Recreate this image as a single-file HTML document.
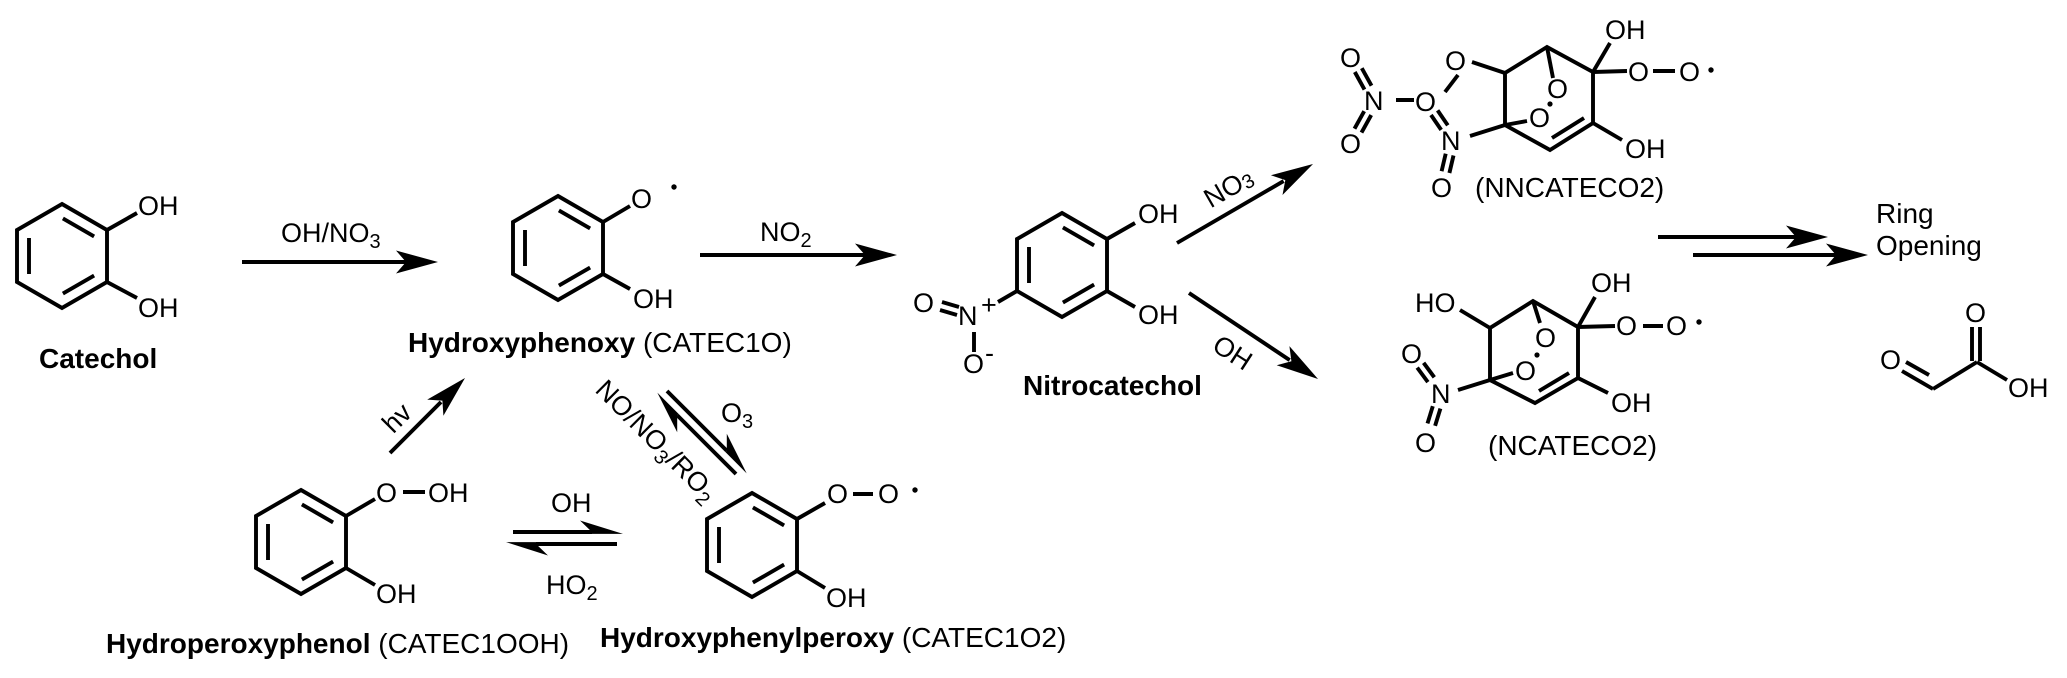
<!DOCTYPE html>
<html><head><meta charset="utf-8"><style>
html,body{margin:0;padding:0;background:#fff;}
svg{display:block;}
text{font-family:"Liberation Sans",Arial,sans-serif;font-size:27px;fill:#000;}
.n{font-size:28px;}
</style></head><body>
<svg width="2067" height="678" viewBox="0 0 2067 678" xmlns="http://www.w3.org/2000/svg">
<rect width="2067" height="678" fill="#fff"/>
<g stroke="#000" stroke-width="3.9" fill="none" stroke-linejoin="miter" stroke-linecap="butt">
<!-- Catechol -->
<polygon points="62,204 107,230 107,282 62,308 17,282 17,230"/>
<line x1="62.9" y1="218.4" x2="94.1" y2="236.4"/>
<line x1="29" y1="238" x2="29" y2="274"/>
<line x1="62.9" y1="293.6" x2="94.1" y2="275.6"/>
<line x1="107" y1="230" x2="137" y2="213"/>
<line x1="107" y1="282" x2="137" y2="298"/>
<!-- arrow 1 -->
<line x1="242" y1="262" x2="408" y2="262"/>
<!-- Hydroxyphenoxy -->
<polygon points="558,196 603,222 603,274 558,300 513,274 513,222"/>
<line x1="558.9" y1="210.4" x2="590.1" y2="228.4"/>
<line x1="525" y1="230" x2="525" y2="266"/>
<line x1="558.9" y1="285.6" x2="590.1" y2="267.6"/>
<line x1="603" y1="222" x2="630" y2="206"/>
<line x1="603" y1="274" x2="630" y2="289"/>
<!-- arrow NO2 -->
<line x1="700" y1="255" x2="867" y2="255"/>
<!-- Nitrocatechol -->
<polygon points="1062,213 1107,239 1107,291 1062,317 1017,291 1017,239"/>
<line x1="1062.9" y1="227.4" x2="1094.1" y2="245.4"/>
<line x1="1029" y1="247" x2="1029" y2="283"/>
<line x1="1062.9" y1="302.6" x2="1094.1" y2="284.6"/>
<line x1="1107" y1="239" x2="1135" y2="223"/>
<line x1="1107" y1="291" x2="1135" y2="307"/>
<line x1="1017" y1="291" x2="998" y2="302"/>
<line x1="974" y1="332" x2="974" y2="352"/>
<line x1="942" y1="302" x2="959" y2="307"/>
<line x1="940" y1="310" x2="957" y2="315"/>
<!-- diag arrows -->
<line x1="1177" y1="243" x2="1283.6" y2="181.1"/>
<line x1="1189" y1="293" x2="1289.7" y2="360.1"/>
<!-- NNCATECO2 -->
<polygon points="1505,125 1505,73 1547,47 1593,72 1593,123 1550,150"/>
<line x1="1552" y1="138" x2="1584" y2="118"/>
<line x1="1547" y1="47" x2="1553" y2="78"/>
<line x1="1527" y1="121" x2="1505" y2="125"/>
<line x1="1593" y1="72" x2="1610" y2="43"/>
<line x1="1593" y1="72" x2="1627" y2="71"/>
<line x1="1653" y1="71" x2="1675" y2="71"/>
<line x1="1593" y1="123" x2="1622" y2="140"/>
<line x1="1505" y1="73" x2="1472" y2="62"/>
<line x1="1458" y1="75" x2="1445" y2="92"/>
<line x1="1396" y1="100" x2="1414" y2="100"/>
<line x1="1354.8" y1="72" x2="1364.5" y2="89.6"/>
<line x1="1361.8" y1="68.2" x2="1371.5" y2="85.7"/>
<line x1="1364.2" y1="111.2" x2="1354.5" y2="128.7"/>
<line x1="1371.2" y1="115.1" x2="1361.5" y2="132.6"/>
<line x1="1431" y1="115" x2="1441.2" y2="129.9"/>
<line x1="1437.6" y1="110.4" x2="1447.8" y2="125.3"/>
<line x1="1470" y1="136" x2="1505" y2="125"/>
<line x1="1445.7" y1="153.7" x2="1441.6" y2="171.2"/>
<line x1="1453.5" y1="155.5" x2="1449.4" y2="173"/>
<!-- NCATECO2 -->
<polygon points="1490,380 1490,328 1533,301 1578,327 1578,378 1535,403"/>
<line x1="1539" y1="391" x2="1569" y2="373"/>
<line x1="1533" y1="301" x2="1540" y2="323"/>
<line x1="1513" y1="373" x2="1490" y2="380"/>
<line x1="1460" y1="310" x2="1490" y2="328"/>
<line x1="1578" y1="327" x2="1595" y2="297"/>
<line x1="1578" y1="327" x2="1615" y2="326"/>
<line x1="1643" y1="326" x2="1663" y2="326"/>
<line x1="1578" y1="378" x2="1608" y2="393"/>
<line x1="1458" y1="390" x2="1490" y2="380"/>
<line x1="1417.2" y1="367.6" x2="1427.9" y2="382.1"/>
<line x1="1423.6" y1="362.8" x2="1434.3" y2="377.3"/>
<line x1="1432.8" y1="406.2" x2="1427.5" y2="423.4"/>
<line x1="1440.4" y1="408.6" x2="1435.1" y2="425.8"/>
<!-- ring opening arrows -->
<line x1="1658" y1="237" x2="1798" y2="237"/>
<line x1="1693" y1="255" x2="1838" y2="255"/>
<!-- glyoxylic acid -->
<line x1="1902" y1="371" x2="1933" y2="389"/>
<line x1="1906" y1="362" x2="1929" y2="375"/>
<line x1="1933" y1="389" x2="1977" y2="362"/>
<line x1="1972" y1="327" x2="1972" y2="361"/>
<line x1="1980" y1="327" x2="1980" y2="361"/>
<line x1="1977" y1="362" x2="2007" y2="380"/>
<!-- Hydroperoxyphenol -->
<polygon points="301,490 346,516 346,568 301,594 256,568 256,516"/>
<line x1="301.9" y1="504.4" x2="333.1" y2="522.4"/>
<line x1="268" y1="524" x2="268" y2="560"/>
<line x1="301.9" y1="579.6" x2="333.1" y2="561.6"/>
<line x1="346" y1="516" x2="375" y2="499"/>
<line x1="346" y1="568" x2="375" y2="585"/>
<line x1="403" y1="492" x2="425" y2="492"/>
<!-- hv arrow -->
<line x1="390" y1="453" x2="441" y2="402"/>
<!-- OH/HO2 equilibrium -->
<line x1="513" y1="532" x2="592" y2="532"/>
<line x1="617" y1="544" x2="536" y2="544"/>
<!-- diagonal equilibrium -->
<line x1="667" y1="391" x2="726.8" y2="450.8"/>
<line x1="736" y1="474" x2="677.2" y2="415.2"/>
<!-- Peroxy -->
<polygon points="752,493 797,519 797,571 752,597 707,571 707,519"/>
<line x1="752.9" y1="507.4" x2="784.1" y2="525.4"/>
<line x1="719" y1="527" x2="719" y2="563"/>
<line x1="752.9" y1="582.6" x2="784.1" y2="564.6"/>
<line x1="797" y1="519" x2="825" y2="503"/>
<line x1="797" y1="571" x2="825" y2="588"/>
<line x1="853" y1="494" x2="873" y2="494"/>
</g>
<g fill="#000" stroke="none">
<!-- arrowheads -->
<polygon points="438,262 396,250.5 406,262 396,273.5"/>
<polygon points="897,255 855,243.5 865,255 855,266.5"/>
<polygon points="1313,164 1282.5,195.0 1285.3,180.1 1270.9,175.2"/>
<polygon points="1318,379 1276.7,365.3 1291.4,361.25 1289.4,346.1"/>
<polygon points="465,378 443.4,415.8 442.4,400.6 427.2,399.6"/>
<polygon points="1828,237 1786,225.5 1796,237 1786,248.5"/>
<polygon points="1868,255 1826,243.5 1836,255 1826,266.5"/>
<!-- half arrows -->
<polygon points="623,533.9 580,520.5 590,530.1 590,533.9"/>
<polygon points="506,542.1 548,555.5 538,545.9 538,542.1"/>
<polygon points="746.66,473.34 726.8,433.8 726.8,450.8 725.5,452.1"/>
<polygon points="657.34,392.66 677.2,432.2 677.2,415.2 678.56,413.86"/>
<!-- radical dots -->
<circle cx="674" cy="187" r="2.7"/>
<circle cx="915" cy="490" r="2.7"/>
<circle cx="1711" cy="70" r="2.7"/>
<circle cx="1699" cy="322" r="2.7"/>
<circle cx="1550" cy="104" r="2.6"/>
<circle cx="1537" cy="355" r="2.6"/>
</g>

<!-- Catechol texts -->
<text x="138" y="215">OH</text>
<text x="138" y="317">OH</text>
<text class="n" x="39" y="368" font-weight="bold">Catechol</text>
<text x="281" y="242">OH/NO<tspan font-size="20" dy="6">3</tspan></text>

<!-- Hydroxyphenoxy -->
<text x="631" y="208">O</text>
<text x="633" y="308">OH</text>
<text class="n" x="408" y="352"><tspan font-weight="bold">Hydroxyphenoxy</tspan> (CATEC1O)</text>
<text x="760" y="241">NO<tspan font-size="20" dy="6">2</tspan></text>

<!-- Nitrocatechol -->
<text x="1138" y="223">OH</text>
<text x="1138" y="324">OH</text>
<text x="958" y="325">N</text>
<text x="981" y="314" font-size="20">+</text>
<text x="913" y="312">O</text>
<text x="963" y="373">O</text>
<text x="985" y="362" font-size="20">-</text>
<text class="n" x="1023" y="395" font-weight="bold">Nitrocatechol</text>

<text transform="translate(1228,187) rotate(-30)" text-anchor="middle" y="10">NO<tspan font-size="20" dy="2">3</tspan></text>
<text transform="translate(1233,352) rotate(33)" text-anchor="middle" y="10">OH</text>

<!-- NNCATECO2 -->
<text x="1605" y="39">OH</text>
<text x="1628" y="81">O</text>
<text x="1679" y="81">O</text>
<text x="1625" y="158">OH</text>
<text x="1445" y="70">O</text>
<text x="1415" y="111">O</text>
<text x="1364" y="110">N</text>
<text x="1340" y="67">O</text>
<text x="1340" y="153">O</text>
<text x="1441" y="150">N</text>
<text x="1431" y="197">O</text>
<text x="1547" y="98">O</text>
<text x="1529" y="127">O</text>
<text class="n" x="1475" y="197">(NNCATECO2)</text>

<!-- NCATECO2 -->
<text x="1415" y="312">HO</text>
<text x="1591" y="292">OH</text>
<text x="1616" y="335">O</text>
<text x="1666" y="335">O</text>
<text x="1611" y="412">OH</text>
<text x="1535" y="347">O</text>
<text x="1515" y="380">O</text>
<text x="1431" y="403">N</text>
<text x="1401" y="363">O</text>
<text x="1415" y="452">O</text>
<text class="n" x="1488" y="455">(NCATECO2)</text>

<!-- Ring opening -->
<text class="n" x="1876" y="223">Ring</text>
<text class="n" x="1876" y="255">Opening</text>
<text x="1880" y="369">O</text>
<text x="1965" y="322">O</text>
<text x="2008" y="397">OH</text>

<!-- Hydroperoxyphenol -->
<text x="376" y="502">O</text>
<text x="428" y="502">OH</text>
<text x="376" y="603">OH</text>
<text class="n" x="106" y="653"><tspan font-weight="bold">Hydroperoxyphenol</tspan> (CATEC1OOH)</text>
<text transform="translate(397,418) rotate(-45)" text-anchor="middle" y="9">hv</text>
<text x="551" y="512">OH</text>
<text x="546" y="594">HO<tspan font-size="20" dy="6">2</tspan></text>
<text x="721" y="422">O<tspan font-size="20" dy="6">3</tspan></text>
<text transform="translate(594,391) rotate(45)">NO/NO<tspan font-size="20" dy="6">3</tspan><tspan dy="-6">/RO</tspan><tspan font-size="20" dy="6">2</tspan></text>

<!-- Peroxy -->
<text x="827" y="503">O</text>
<text x="878" y="503">O</text>
<text x="826" y="607">OH</text>
<text class="n" x="600" y="647"><tspan font-weight="bold">Hydroxyphenylperoxy</tspan> (CATEC1O2)</text>
</svg>
</body></html>
